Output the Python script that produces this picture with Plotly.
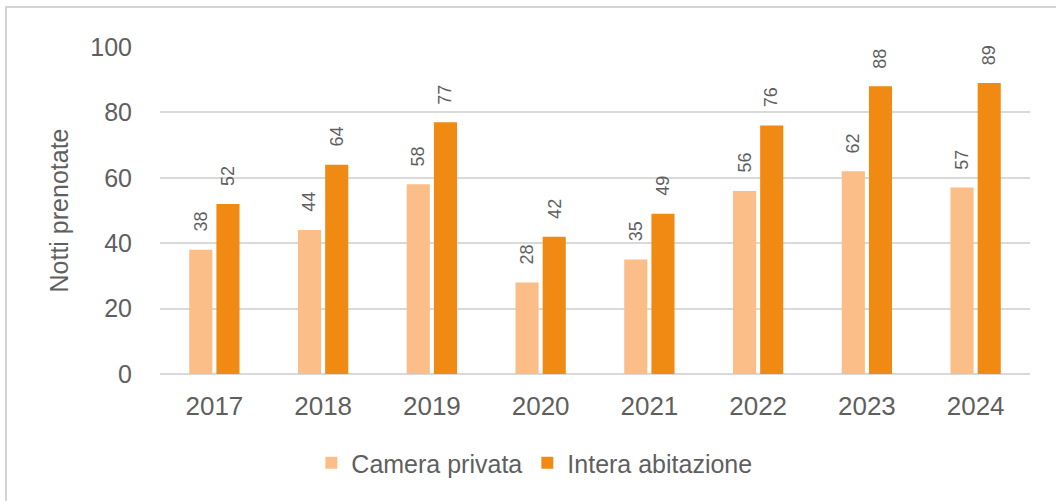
import plotly.graph_objects as go

years = ["2017", "2018", "2019", "2020", "2021", "2022", "2023", "2024"]
camera_privata = [38, 44, 58, 28, 35, 56, 62, 57]
intera_abitazione = [52, 64, 77, 42, 49, 76, 88, 89]

series_names = ["Camera privata", "Intera abitazione"]
series_colors = ["#FBBE88", "#F08A12"]

FONT = "Liberation Sans, Arial, sans-serif"
TEXT_GREY = "#5f5f5f"
GRID = "#d9d9d9"

BARGAP = 0.5
BARGROUPGAP = 0.15

fig = go.Figure()
for name, vals, col in zip(series_names, [camera_privata, intera_abitazione], series_colors):
    fig.add_trace(go.Bar(x=years, y=vals, name=name, marker=dict(color=col, line=dict(width=0))))

# value labels above each bar, rotated
slot = (1 - BARGAP) / 2
offsets = [-slot / 2, slot / 2]
annotations = []
for off, vals in zip(offsets, [camera_privata, intera_abitazione]):
    for i, v in enumerate(vals):
        annotations.append(dict(
            x=i + off, y=v, xref="x", yref="y", text=str(v), showarrow=False,
            textangle=-90, yanchor="bottom", xanchor="center", yshift=16,
            font=dict(family=FONT, size=18, color=TEXT_GREY),
        ))

# outer frame
L, T, R, B = 160, 47, 1030, 374
pw, ph = R - L, B - T
def px_x(p):
    return (p - L) / pw
def px_y(p):
    return (B - p) / ph

fig.update_layout(
    width=1056, height=501,
    margin=dict(l=L, r=1056 - R, t=T, b=501 - B),
    paper_bgcolor="white", plot_bgcolor="white",
    barmode="group", bargap=BARGAP, bargroupgap=BARGROUPGAP,
    font=dict(family=FONT, color=TEXT_GREY),
    annotations=annotations,
    shapes=[dict(type="rect", xref="paper", yref="paper",
                 x0=px_x(6), x1=px_x(1070), y0=px_y(515), y1=px_y(7),
                 line=dict(color="#c6c6c6", width=1.5), layer="below")],
    legend=dict(orientation="h", xref="container", yref="container",
                x=0.506, xanchor="center", y=(501 - 463) / 501, yanchor="middle",
                font=dict(family=FONT, size=25, color=TEXT_GREY),
                itemwidth=30, traceorder="normal"),
    showlegend=True,
)
fig.update_xaxes(type="category", showgrid=False, showline=False, ticks="",
                 tickfont=dict(family=FONT, size=26, color=TEXT_GREY),
                 ticklabelstandoff=14)
fig.update_yaxes(range=[0, 100], dtick=20, showgrid=True, gridcolor=GRID, gridwidth=2,
                 zeroline=True, zerolinecolor=GRID, zerolinewidth=2,
                 showline=False, ticks="",
                 tickfont=dict(family=FONT, size=25, color=TEXT_GREY),
                 ticklabelstandoff=27,
                 title=dict(text="Notti prenotate", standoff=14,
                            font=dict(family=FONT, size=25, color=TEXT_GREY)))

fig.write_html("out.html")
